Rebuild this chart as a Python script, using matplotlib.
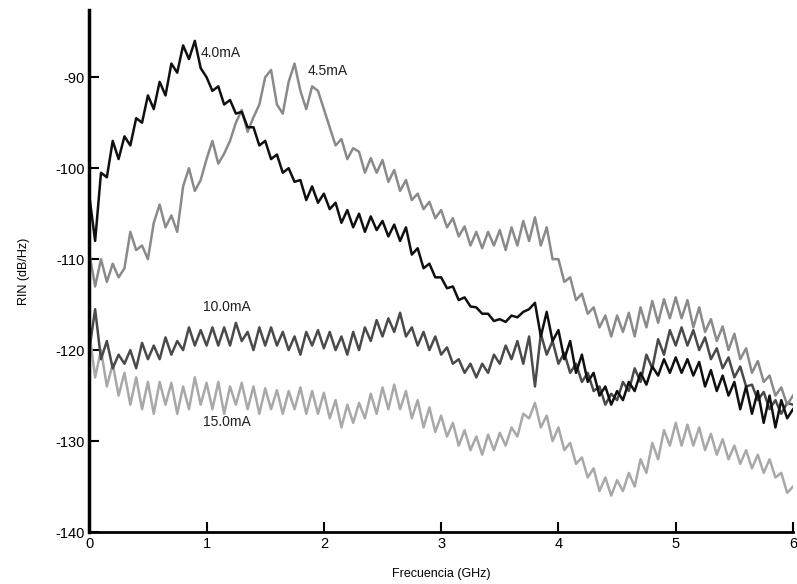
import matplotlib
matplotlib.use('Agg')

import matplotlib.pyplot as plt
import numpy as np

# frequency grid (GHz), one sample every 0.05 GHz
freq = np.linspace(0.0, 6.0, 121)

# RIN (dB/Hz), one list per bias current
rin_4_0 = [
    -103, -108, -100.5, -101, -97, -99, -96.5, -97.5, -94.5, -95,
    -92, -93.5, -90.5, -92, -88.5, -89.5, -86.5, -88, -86, -89,
    -90, -91.5, -91, -93, -92.5, -94, -93.8, -95.5, -95.5, -97.5,
    -97, -99, -98.5, -100.5, -100, -101.5, -101.3, -103.5, -102, -103.8,
    -102.8, -104.5, -103.8, -106, -104.6, -106.5, -105, -107, -105.3, -106.8,
    -105.8, -107.5, -106.2, -108, -106.5, -109.5, -108.8, -111, -110.5, -112,
    -112, -113.2, -113, -114.5, -114.2, -115.2, -115.3, -116, -116, -116.8,
    -116.6, -116.9, -116.2, -116.4, -115.8, -115.5, -114.8, -118.5, -115.8, -119,
    -117.8, -121, -119, -122.5, -120.5, -123.5, -122.5, -125, -124, -126,
    -124.5, -125.5, -123.5, -124.5, -122.5, -123.8, -121.8, -122.8, -121, -122.5,
    -120.8, -122.5, -121, -122.8, -121.3, -124, -122.2, -124.5, -122.8, -125,
    -123.5, -126.5, -124, -127, -124.5, -128, -125, -128.5, -125.5, -127.5,
    -126.5,
]
rin_4_5 = [
    -109.3, -113, -110, -112.5, -110.5, -112, -111, -107, -109, -108.5,
    -110, -106, -104, -106.5, -105.2, -107, -102, -100, -102.5, -101.3,
    -99, -97, -99.5, -98.4, -97, -95, -93.6, -96, -94.4, -93,
    -90, -89.2, -93, -94, -90.5, -88.5, -91.5, -93.5, -91, -91.5,
    -93.5, -95.5, -97.5, -96.8, -99, -97.8, -98.2, -100.5, -98.9, -100.5,
    -99.1, -101.5, -100.2, -102.5, -101.3, -103.5, -102.8, -104.5, -103.7, -105.5,
    -104.6, -106.5, -105.5, -107.5, -106.4, -108.5, -107, -108.8, -107, -108.5,
    -106.8, -109, -106.5, -108.5, -105.8, -108, -105.4, -108.5, -106.5, -110,
    -110, -112.5, -112, -114.5, -113.8, -116, -115.3, -117.5, -116.2, -118.5,
    -116.2, -118, -115.9, -118.5, -115.3, -117.5, -114.6, -117, -114.4, -116.5,
    -114.2, -116.5, -114.5, -117.5, -115.3, -118, -116.6, -119, -117.4, -120,
    -118.2, -121, -119.8, -122.5, -121.2, -123.5, -122.8, -125, -124.1, -126,
    -125,
]
rin_10_0 = [
    -120, -115.5, -121, -119, -122, -120.5, -121.5, -120, -122, -119.2,
    -121, -119.5, -121, -118.6, -120.5, -119, -120, -117.5, -119.5, -117.8,
    -119.5, -117.5, -119.5, -117.5, -119.5, -117, -119, -118, -120, -117.5,
    -119.5, -117.5, -119.5, -118, -120, -118.5, -120.5, -118, -119.5, -117.8,
    -119.8, -118, -120, -118.5, -120.5, -118, -120, -117.5, -119, -116.7,
    -118.5, -116.5, -118, -115.9, -118.5, -117.5, -119.5, -118, -120, -118.5,
    -120.5, -119.7, -121.5, -121, -122.5, -121.5, -123, -121.5, -122.5, -120.5,
    -121.5, -119.5, -121, -119, -121.5, -118.5, -124, -118.2, -120.5, -119,
    -121.5, -120.3, -122.5, -121.5, -123.5, -122.5, -124.5, -124, -126, -124.8,
    -125.5, -123.5, -124.5, -122, -123.5, -120.5, -122, -118.8, -120.5, -117.8,
    -119.5, -117.5, -119.5, -117.8, -120, -118.6, -121, -119.8, -122, -120.8,
    -123, -121.8, -124, -123.8, -125.5, -124.6, -126.5, -125.5, -127, -125.8,
    -126,
]
rin_15_0 = [
    -118, -123, -120, -124, -121.5, -125, -122.5, -126, -123, -126.5,
    -123.5, -127, -123.5, -126, -123.6, -127, -124, -126.5, -123, -126,
    -123.6, -126.5, -123.5, -127, -124, -126, -123.6, -126.5, -124, -127,
    -124.2, -126.5, -124.4, -127, -124.5, -126.5, -124.1, -127, -124.5, -127,
    -124.7, -127.5, -125.5, -128.5, -126, -128, -125.8, -127.5, -124.8, -127,
    -124.1, -126.5, -123.8, -126.5, -124.5, -127.5, -125.5, -128.5, -126.3, -129,
    -127.2, -129.5, -128, -130.5, -128.8, -131, -129.5, -131.5, -129.3, -131,
    -129.1, -130.5, -128.5, -129.5, -127, -127.5, -125.8, -128.5, -127.2, -130,
    -128.5, -131, -130.2, -132.5, -131.8, -134, -133, -135.5, -134, -136,
    -134.3, -135.5, -133.5, -135, -132, -133.5, -130.2, -132, -128.8, -130.5,
    -128, -130.5, -128.2, -130.5, -128.5, -131, -129.2, -131.5, -129.8, -132,
    -130.5, -132.5, -131, -133, -131.5, -133.5, -132, -134, -133.5, -135.7,
    -135,
]

series = [
    ("15.0mA", rin_15_0, "#a8a8a8", (0.97, -127.9)),
    ("10.0mA", rin_10_0, "#4a4a4a", (0.97, -115.3)),
    ("4.5mA", rin_4_5, "#8a8a8a", (1.86, -89.3)),
    ("4.0mA", rin_4_0, "#101010", (0.95, -87.3)),
]

plt.rcParams['font.family'] = ['Liberation Sans', 'DejaVu Sans']
plt.rcParams['axes.unicode_minus'] = False

fig = plt.figure(figsize=(7.97, 5.84), dpi=100)
ax = fig.add_axes([0.112, 0.089, 0.883, 0.894])

for label, values, color, (tx, ty) in series:
    ax.plot(freq, values, color=color, linewidth=1.8)
    ax.text(tx, ty, label, fontsize=10, color="#202020", va="center", ha="left")

ax.set_xlim(0, 6)
ax.set_ylim(-140, -82.6)
ax.set_xticks(range(0, 7))
ax.set_yticks([-140, -130, -120, -110, -100, -90])
ax.tick_params(direction="in", length=7, width=1.5, labelsize=10.5)

for side in ("top", "right"):
    ax.spines[side].set_visible(False)
ax.spines["left"].set_linewidth(2.5)
ax.spines["bottom"].set_linewidth(2)

ax.set_xlabel("Frecuencia (GHz)", fontsize=9, labelpad=12)
ax.set_ylabel("RIN (dB/Hz)", fontsize=9, labelpad=18)

fig.savefig("out.png", dpi=100)
